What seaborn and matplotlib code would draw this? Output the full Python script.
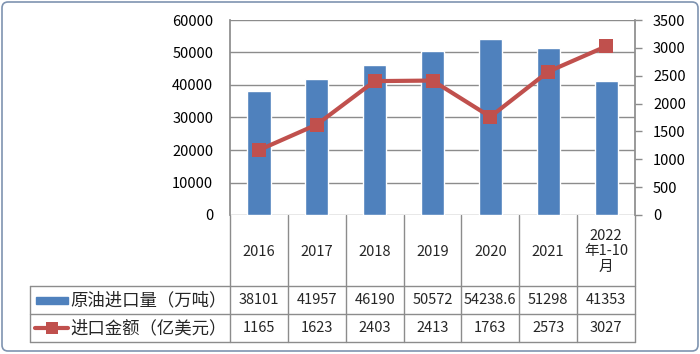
import numpy as np
import seaborn as sns
import matplotlib.pyplot as plt
from matplotlib.patches import FancyBboxPatch, Rectangle

# data
years = ['2016', '2017', '2018', '2019', '2020', '2021', '2022\n年1-10\n月']
volume = [38101, 41957, 46190, 50572, 54238.6, 51298, 41353]
amount = [1165, 1623, 2403, 2413, 1763, 2573, 3027]
volume_label = '原油进口量（万吨）'
amount_label = '进口金额（亿美元）'

blue = '#4F81BD'
red = '#C0504D'
grid = '#8C8C8C'

sns.set_theme(style='white')
plt.rcParams['font.family'] = ['Noto Sans CJK SC', 'DejaVu Sans']

W, H = 700, 354
fig = plt.figure(figsize=(W / 100, H / 100), dpi=100)

# plot area in pixels
left, right, top, bottom = 230, 635, 20, 215
ax = fig.add_axes([left / W, 1 - bottom / H, (right - left) / W, (bottom - top) / H])

pos = list(range(len(years)))
sns.barplot(x=pos, y=volume, ax=ax, color=blue, width=0.4, saturation=1, zorder=3)
ax.set_xlim(-0.5, len(years) - 0.5)
ax.set_ylim(0, 60000)
ax.set_yticks(range(0, 60001, 10000))
ax.yaxis.grid(True, color=grid, linewidth=1)
ax.set_axisbelow(True)
ax.set_xticks([])
ax.set_xlabel('')
ax.set_ylabel('')
ax.tick_params(axis='y', length=0, pad=12, labelsize=10.5, colors='black')
for s in ['top', 'right', 'bottom']:
    ax.spines[s].set_visible(False)
ax.spines['left'].set_color(grid)

ax2 = ax.twinx()
sns.lineplot(x=pos, y=amount, ax=ax2, color=red, linewidth=3, marker='s',
             markersize=9.5, markeredgewidth=0, zorder=4)
ax2.set_ylim(0, 3500)
ax2.set_yticks(range(0, 3501, 500))
ax2.set_ylabel('')
ax2.tick_params(axis='y', right=True, length=5, width=1, pad=8,
                labelsize=10.5, colors='black')
ax2.yaxis.set_tick_params(color=grid)
for s in ['top', 'left', 'bottom']:
    ax2.spines[s].set_visible(False)
ax2.spines['right'].set_color(grid)

# data table below the plot, drawn in pixel coordinates
tab = fig.add_axes([0, 0, 1, 1], zorder=-1)
tab.set_xlim(0, W)
tab.set_ylim(H, 0)
tab.axis('off')
tab.patch.set_alpha(0)

cw = (right - left) / len(years)
row_top, row1, row2, row_bot = bottom, 286, 314, 342
tleft = 30
lc = '#8C8C8C'

for i in range(len(years) + 1):
    x = left + i * cw
    tab.plot([x, x], [row_top, row_bot], color=lc, lw=1)
tab.plot([tleft, tleft], [row1, row_bot], color=lc, lw=1)
for y in [row1, row2, row_bot]:
    tab.plot([tleft, right], [y, y], color=lc, lw=1)

for i, yr in enumerate(years):
    cx = left + (i + 0.5) * cw
    tab.text(cx, (row_top + row1) / 2 + 1, yr, ha='center', va='center',
             fontsize=10.5, linespacing=1.15)
    tab.text(cx, (row1 + row2) / 2, f'{volume[i]:g}', ha='center', va='center', fontsize=10.5)
    tab.text(cx, (row2 + row_bot) / 2, f'{amount[i]:g}', ha='center', va='center', fontsize=10.5)

# legend keys
tab.add_patch(Rectangle((36, 297), 32, 7, color=blue))
tab.text(70, (row1 + row2) / 2, volume_label, ha='left', va='center', fontsize=12.5)
tab.plot([35, 68], [328, 328], color=red, lw=3)
tab.plot([51.5], [328], marker='s', color=red, markersize=8, markeredgewidth=0)
tab.text(70, (row2 + row_bot) / 2, amount_label, ha='left', va='center', fontsize=12.5)

# outer chart border
tab.add_patch(FancyBboxPatch((2, 2), W - 4, H - 5, boxstyle='round,pad=0,rounding_size=6',
                             fill=False, edgecolor='#7F93B0', lw=1.2))

fig.savefig('out.png', dpi=100)
